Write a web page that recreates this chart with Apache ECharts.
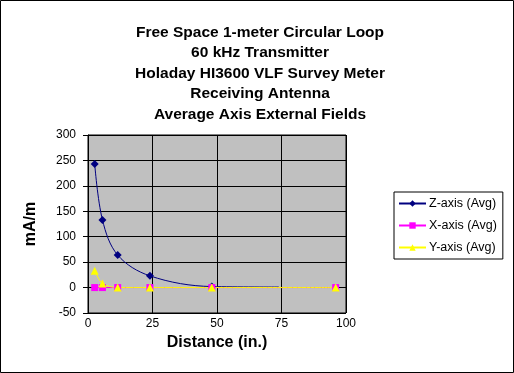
<!DOCTYPE html>
<html><head><meta charset="utf-8">
<script src="https://cdn.jsdelivr.net/npm/echarts@6/dist/echarts.min.js"></script>
<style>html,body{margin:0;padding:0;background:#fff}#c{width:514px;height:373px;box-sizing:border-box;}</style>
</head><body><div id="c"></div>
<script>
const titleLines = ['Free Space 1-meter Circular Loop','60 kHz Transmitter','Holaday HI3600 VLF Survey Meter','Receiving Antenna','Average Axis External Fields'];
const zDist = [2.6, 5.6, 11.5, 24, 48, 74];
const zVals = [243, 133, 64, 23, 2, 1];
const xDist = [2.6, 5.6, 11.5, 24, 48, 96];
const xVals = [0, 0, 0, 0, 0, 0];
const yDist = [2.6, 5.6, 11.5, 24, 48, 96];
const yVals = [33, 8, 0, 0, 0, 0];
const seriesNames = ['Z-axis (Avg)', 'X-axis (Avg)', 'Y-axis (Avg)'];

const chart = echarts.init(document.getElementById('c'));
const font = 'Liberation Sans, Arial, sans-serif';
const zData = zDist.map((d,i)=> i===zDist.length-1 ? {value:[d,zVals[i]], symbol:'none'} : [d,zVals[i]]);
chart.setOption({
  backgroundColor:'#fff',
  animation:false,
  title:{text:titleLines.join('\n'), left:255, top:17, textAlign:'center',
    textStyle:{fontFamily:font,fontSize:15.5,fontWeight:'bold',color:'#000',lineHeight:20.5}},
  grid:{left:88, right:168, top:135, bottom:60, show:true, backgroundColor:'#c0c0c0', borderColor:'#000', borderWidth:1},
  legend:{orient:'vertical', left:394, top:192, itemWidth:27, itemHeight:8, itemGap:9,
    padding:[5,6,5,4], borderColor:'#000', borderWidth:1, backgroundColor:'#fff',
    textStyle:{fontFamily:font,fontSize:12.5,color:'#000',padding:[0,0,0,-2]}, data:seriesNames},
  xAxis:{type:'value', min:0, max:100, interval:25, name:'Distance (in.)', nameLocation:'middle', nameGap:22,
    nameTextStyle:{fontFamily:font,fontSize:16,fontWeight:'bold',color:'#000'},
    axisLine:{show:false}, axisTick:{show:false},
    axisLabel:{fontFamily:font,fontSize:12,color:'#000',margin:5},
    splitLine:{lineStyle:{color:'#000',width:1}}},
  yAxis:{type:'value', min:-50, max:300, interval:50, name:'mA/m', nameLocation:'middle', nameGap:49, nameRotate:90,
    nameTextStyle:{fontFamily:font,fontSize:16,fontWeight:'bold',color:'#000'},
    axisLine:{show:true,lineStyle:{color:'#000'}}, axisTick:{show:true,length:5,inside:false,lineStyle:{color:'#000'}},
    axisLabel:{fontFamily:font,fontSize:12,color:'#000',margin:12},
    splitLine:{lineStyle:{color:'#000',width:1}}},
  series:[
    {name:seriesNames[0], type:'line', smooth:0.35, data:zData, symbol:'diamond', symbolSize:8,
      itemStyle:{color:'#000080'}, lineStyle:{color:'#000080',width:1}},
    {name:seriesNames[1], type:'line', data:xDist.map((d,i)=>[d,xVals[i]]), symbol:'rect', symbolSize:7,
      itemStyle:{color:'#ff00ff'}, lineStyle:{color:'#ff00ff',width:1}},
    {name:seriesNames[2], type:'line', smooth:0.3, data:yDist.map((d,i)=>[d,yVals[i]]), symbol:'triangle', symbolSize:8,
      itemStyle:{color:'#ffff00'}, lineStyle:{color:'#ffff00',width:1}}
  ],
  graphic:[{type:'rect', shape:{x:0.5,y:0.5,width:513,height:372}, style:{fill:'none',stroke:'#000',lineWidth:1}, silent:true, z:100}]
});
</script></body></html>
